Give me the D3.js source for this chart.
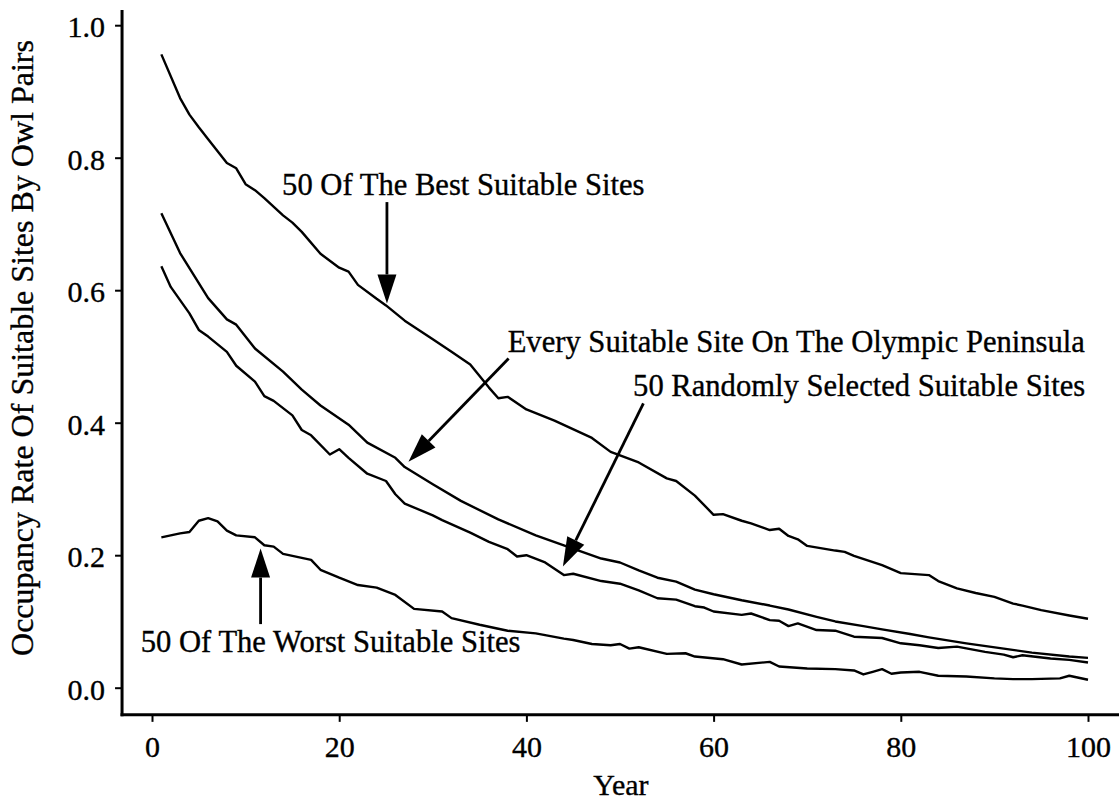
<!DOCTYPE html>
<html>
<head>
<meta charset="utf-8">
<script src="https://cdn.jsdelivr.net/npm/d3@7"></script>
<style>
  html, body { margin: 0; padding: 0; background: #fff; }
  svg { display: block; }
  svg text { font-family: "Liberation Serif", "Times New Roman", Times, serif; fill: #000; stroke: #000; stroke-width: 0.35px; }
</style>
</head>
<body>
<svg id="chart" width="1119" height="802"></svg>
<script>
// Simulated occupancy of suitable sites by owl pairs over 100 years.
const bestYears = [1, 3, 4, 5, 6, 8, 9, 10, 11, 12, 14, 15, 16, 18, 20, 21, 22, 24, 25, 27, 30, 32, 34, 36, 37, 38, 40, 43, 47, 49, 52, 55, 56, 58, 60, 61, 63, 64, 66, 67, 68, 69, 70, 73, 74, 75, 78, 80, 83, 84, 86, 88, 90, 92, 93, 95, 98, 100];
const bestRate  = [0.956, 0.890, 0.865, 0.846, 0.828, 0.792, 0.784, 0.760, 0.751, 0.739, 0.713, 0.702, 0.688, 0.655, 0.634, 0.628, 0.608, 0.587, 0.577, 0.554, 0.526, 0.507, 0.488, 0.453, 0.437, 0.439, 0.420, 0.403, 0.377, 0.356, 0.340, 0.316, 0.312, 0.290, 0.261, 0.262, 0.252, 0.248, 0.238, 0.240, 0.229, 0.224, 0.214, 0.207, 0.205, 0.199, 0.185, 0.173, 0.170, 0.161, 0.150, 0.143, 0.137, 0.127, 0.124, 0.117, 0.109, 0.104];

const everyYears = [1, 3, 6, 8, 9, 11, 14, 16, 18, 21, 23, 26, 27, 30, 33, 37, 41, 44, 48, 50, 52, 54, 56, 58, 60, 63, 66, 68, 71, 73, 76, 78, 81, 83, 87, 91, 94, 98, 100];
const everyRate  = [0.716, 0.656, 0.588, 0.556, 0.548, 0.512, 0.477, 0.450, 0.426, 0.397, 0.370, 0.347, 0.333, 0.307, 0.282, 0.254, 0.230, 0.215, 0.195, 0.189, 0.177, 0.166, 0.160, 0.148, 0.141, 0.132, 0.124, 0.118, 0.107, 0.100, 0.093, 0.088, 0.081, 0.076, 0.067, 0.059, 0.053, 0.047, 0.045];

const randomYears = [1, 2, 3, 4, 5, 6, 8, 9, 11, 12, 13, 15, 16, 17, 19, 20, 21, 23, 25, 26, 27, 30, 31, 34, 36, 38, 39, 40, 42, 44, 45, 48, 50, 52, 54, 56, 58, 59, 60, 63, 64, 66, 67, 68, 69, 71, 73, 75, 78, 80, 82, 84, 86, 89, 91, 92, 93, 96, 98, 100];
const randomRate  = [0.636, 0.605, 0.585, 0.565, 0.540, 0.530, 0.507, 0.486, 0.462, 0.440, 0.433, 0.411, 0.389, 0.381, 0.352, 0.360, 0.347, 0.323, 0.312, 0.292, 0.278, 0.260, 0.253, 0.234, 0.220, 0.209, 0.198, 0.200, 0.189, 0.170, 0.172, 0.161, 0.157, 0.147, 0.135, 0.133, 0.123, 0.121, 0.115, 0.110, 0.112, 0.102, 0.101, 0.093, 0.097, 0.087, 0.086, 0.077, 0.075, 0.067, 0.064, 0.060, 0.062, 0.054, 0.050, 0.046, 0.049, 0.044, 0.042, 0.038];

const worstYears = [1, 3, 4, 5, 6, 7, 8, 9, 11, 12, 13, 14, 17, 18, 20, 22, 24, 26, 28, 31, 32, 35, 38, 41, 44, 45, 47, 49, 50, 51, 52, 55, 57, 58, 61, 63, 66, 67, 70, 73, 75, 76, 77, 78, 79, 80, 82, 84, 87, 90, 92, 94, 97, 98, 100];
const worstRate  = [0.227, 0.233, 0.235, 0.252, 0.256, 0.251, 0.237, 0.230, 0.227, 0.215, 0.213, 0.202, 0.193, 0.178, 0.166, 0.155, 0.151, 0.140, 0.119, 0.115, 0.105, 0.095, 0.086, 0.082, 0.074, 0.072, 0.066, 0.064, 0.066, 0.059, 0.061, 0.051, 0.052, 0.047, 0.043, 0.035, 0.039, 0.032, 0.029, 0.028, 0.026, 0.020, 0.024, 0.028, 0.021, 0.023, 0.024, 0.018, 0.017, 0.014, 0.013, 0.013, 0.014, 0.018, 0.012];

const xTicks = [0, 20, 40, 60, 80, 100];
const yTicks = [0.0, 0.2, 0.4, 0.6, 0.8, 1.0];

// Annotation text with arrow tip/tail in data units (year, rate)
const labels = [
  "50 Of The Best Suitable Sites",
  "Every Suitable Site On The Olympic Peninsula",
  "50 Randomly Selected Suitable Sites",
  "50 Of The Worst Suitable Sites"
];
const arrowTails = [[25.1, 0.733], [38.1, 0.497], [52.5, 0.429], [11.6, 0.096]];
const arrowTips  = [[25.1, 0.580], [27.4, 0.341], [43.9, 0.183], [11.6, 0.210]];
const labelAnchors = [[13.9, 0.744], [38.0, 0.507], [51.4, 0.441], [-1.2, 0.054]];

const svg = d3.select("#chart");

const x = d3.scaleLinear().domain([0, 100]).range([152, 1088]);
const y = d3.scaleLinear().domain([0, 1]).range([687.7, 25.2]);

// Axis frame extents (slightly beyond the data domain)
const xMin = -3.2, xMax = 103.4, yMin = -0.041, yMax = 1.023;

const axisColor = "#000";

// Left axis
const yAxis = d3.axisLeft(y).tickValues(yTicks).tickFormat(d3.format(".1f"))
  .tickSize(7).tickPadding(10);
const gy = svg.append("g").attr("transform", `translate(${x(xMin)},0)`).call(yAxis);
gy.attr("font-family", null);
gy.select(".domain").remove();
gy.selectAll(".tick line").attr("stroke", axisColor).attr("stroke-width", 2);
gy.selectAll(".tick text").attr("font-size", 30).attr("dy", "0.38em");

// Bottom axis
const xAxis = d3.axisBottom(x).tickValues(xTicks).tickFormat(d3.format("d"))
  .tickSize(7).tickPadding(14);
const gx = svg.append("g").attr("transform", `translate(0,${y(yMin)})`).call(xAxis);
gx.attr("font-family", null);
gx.select(".domain").remove();
gx.selectAll(".tick line").attr("stroke", axisColor).attr("stroke-width", 2);
gx.selectAll(".tick text").attr("font-size", 30).attr("dy", "0.71em");

// Axis lines
svg.append("line")
  .attr("x1", x(xMin)).attr("x2", x(xMin))
  .attr("y1", y(yMax)).attr("y2", y(yMin) + 1.5)
  .attr("stroke", axisColor).attr("stroke-width", 3);
svg.append("line")
  .attr("x1", x(xMin) - 1.5).attr("x2", x(xMax))
  .attr("y1", y(yMin)).attr("y2", y(yMin))
  .attr("stroke", axisColor).attr("stroke-width", 3);

// Axis titles
svg.append("text")
  .attr("x", (x(xMin) + x(xMax)) / 2).attr("y", 795)
  .attr("text-anchor", "middle").attr("font-size", 30)
  .text("Year");
svg.append("text")
  .attr("transform", `translate(33,348) rotate(-90)`)
  .attr("text-anchor", "middle").attr("font-size", 32)
  .text("Occupancy Rate Of Suitable Sites By Owl Pairs");

// Series lines
const series = [
  [bestYears, bestRate],
  [everyYears, everyRate],
  [randomYears, randomRate],
  [worstYears, worstRate]
];
const line = d3.line().x(d => x(d[0])).y(d => y(d[1]));
svg.append("g").selectAll("path")
  .data(series.map(([yr, v]) => yr.map((d, i) => [d, v[i]])))
  .join("path")
  .attr("d", line)
  .attr("fill", "none")
  .attr("stroke", "#000")
  .attr("stroke-width", 2.4)
  .attr("stroke-linejoin", "round");

// Annotations: labels with arrows pointing at their curves
const headLen = 29, headHalf = 9.5;
const ann = svg.append("g");
labels.forEach((txt, i) => {
  ann.append("text")
    .attr("x", x(labelAnchors[i][0])).attr("y", y(labelAnchors[i][1]))
    .attr("font-size", 30.6)
    .text(txt);

  const [tx0, ty0] = [x(arrowTails[i][0]), y(arrowTails[i][1])];
  const [tx1, ty1] = [x(arrowTips[i][0]), y(arrowTips[i][1])];
  const ang = Math.atan2(ty1 - ty0, tx1 - tx0);
  const bx = tx1 - headLen * Math.cos(ang), by = ty1 - headLen * Math.sin(ang);
  ann.append("line")
    .attr("x1", tx0).attr("y1", ty0).attr("x2", bx).attr("y2", by)
    .attr("stroke", "#000").attr("stroke-width", 2.8);
  const px = -Math.sin(ang) * headHalf, py = Math.cos(ang) * headHalf;
  ann.append("path")
    .attr("d", `M${tx1},${ty1}L${bx + px},${by + py}L${bx - px},${by - py}Z`)
    .attr("fill", "#000");
});
</script>
</body>
</html>
